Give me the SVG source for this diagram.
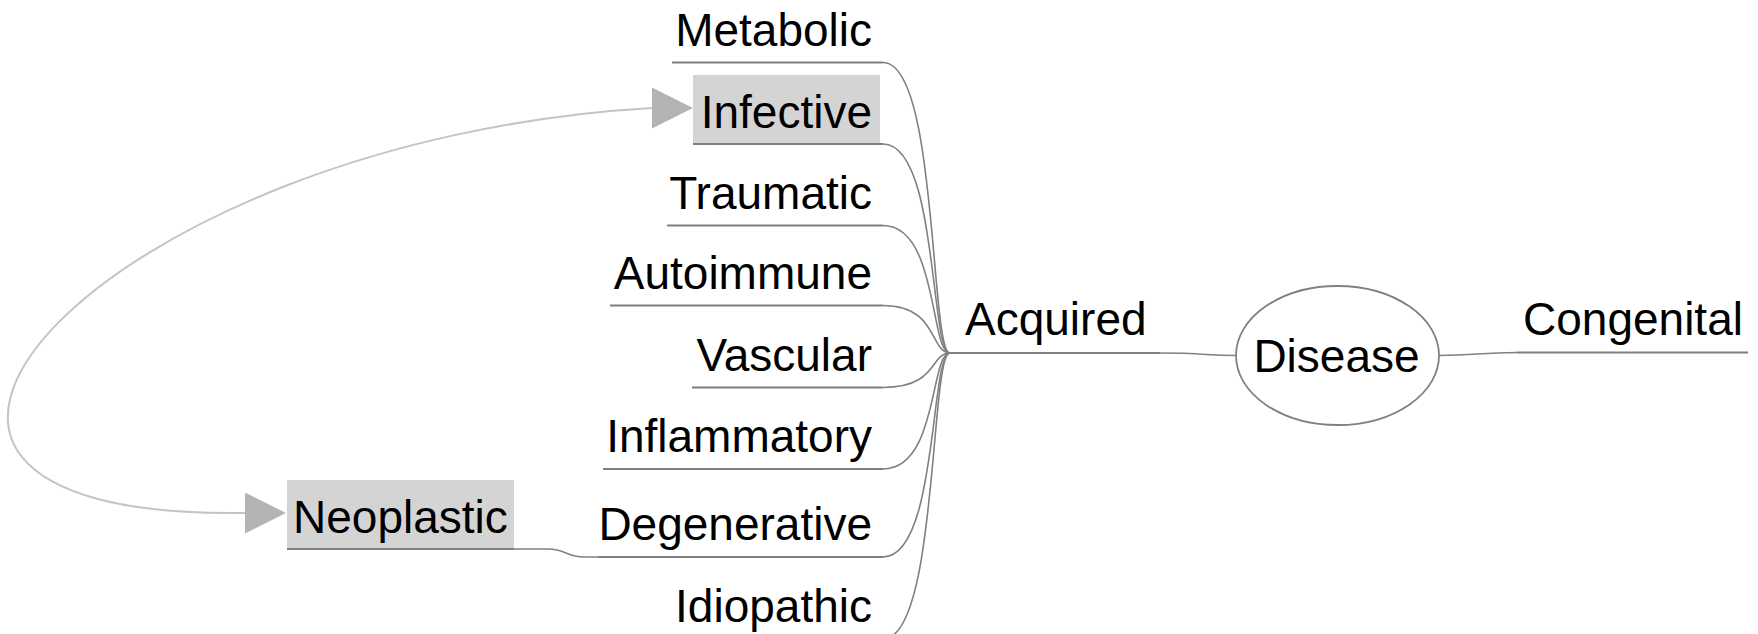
<svg xmlns="http://www.w3.org/2000/svg" width="1758" height="634" viewBox="0 0 1758 634">
<defs>
<style>
text{font-family:"Liberation Sans",Arial,sans-serif;font-size:46px;fill:#000}
.r{text-anchor:end}
.ul{stroke:#7f7f7f;stroke-width:2;fill:none}
.cn{stroke:#808080;stroke-width:1.6;fill:none}
.hl{fill:#d4d4d4}
.rel{stroke:#c4c4c4;stroke-width:2;fill:none;marker-start:url(#ah);marker-end:url(#ah)}
</style>
<marker id="ah" markerUnits="userSpaceOnUse" markerWidth="41" markerHeight="41" viewBox="0 0 41 41" refX="0" refY="20.5" orient="0">
<path d="M0,0 L41,20.5 L0,41 Z" fill="#b4b4b4"/>
</marker>
</defs>
<rect width="1758" height="634" fill="#fff"/>
<g id="connectors">
<path class="cn" d="M883,62.5 C938,62.5 930,353 950,353"/>
<path class="cn" d="M883,144 C938,144 930,353 950,353"/>
<path class="cn" d="M883,225.5 C938,225.5 930,353 950,353"/>
<path class="cn" d="M883,305.5 C938,305.5 930,353 950,353"/>
<path class="cn" d="M883,387.5 C938,387.5 930,353 950,353"/>
<path class="cn" d="M883,469 C938,469 930,353 950,353"/>
<path class="cn" d="M883,557 C938,557 930,353 950,353"/>
<path class="cn" d="M883,639 C938,639 930,353 950,353"/>
<path class="cn" d="M1160,353 C1205,353 1205,355.5 1236,355.5"/>
<path class="cn" d="M1439,355.5 C1475,355.5 1480,352.5 1517,352.5"/>
<path class="cn" d="M514,549 L548,549 C566,549 566,557 584,557 L598,557"/>
<path class="rel" d="M245,513 C-250,520 100,140 652,108"/>
</g>
<g id="disease">
<ellipse cx="1337.5" cy="355.5" rx="101.5" ry="69.5" fill="#fff" stroke="#808080" stroke-width="1.8"/>
<text x="1336.5" y="372" text-anchor="middle">Disease</text>
</g>
<g id="acquired">
<text x="965" y="335">Acquired</text>
<line class="ul" x1="950" y1="353" x2="1160" y2="353"/>
</g>
<g id="congenital">
<text x="1523" y="335">Congenital</text>
<line class="ul" x1="1517" y1="352.5" x2="1748" y2="352.5"/>
</g>
<g id="metabolic">
<text class="r" x="872" y="45.5">Metabolic</text>
<line class="ul" x1="672" y1="62.5" x2="883" y2="62.5"/>
</g>
<g id="infective">
<rect class="hl" x="693" y="75" width="187" height="69"/>
<text class="r" x="872" y="128">Infective</text>
<line class="ul" x1="693" y1="144" x2="883" y2="144"/>
</g>
<g id="traumatic">
<text class="r" x="872" y="208.5">Traumatic</text>
<line class="ul" x1="667" y1="225.5" x2="883" y2="225.5"/>
</g>
<g id="autoimmune">
<text class="r" x="872" y="288.5">Autoimmune</text>
<line class="ul" x1="610" y1="305.5" x2="883" y2="305.5"/>
</g>
<g id="vascular">
<text class="r" x="872" y="370.5">Vascular</text>
<line class="ul" x1="692" y1="387.5" x2="883" y2="387.5"/>
</g>
<g id="inflammatory">
<text class="r" x="872" y="452">Inflammatory</text>
<line class="ul" x1="603" y1="469" x2="883" y2="469"/>
</g>
<g id="degenerative">
<text class="r" x="872" y="540">Degenerative</text>
<line class="ul" x1="598" y1="557" x2="883" y2="557"/>
</g>
<g id="idiopathic">
<text class="r" x="872" y="622">Idiopathic</text>
<line class="ul" x1="670" y1="639" x2="883" y2="639"/>
</g>
<g id="neoplastic">
<rect class="hl" x="287" y="480" width="227" height="69"/>
<text x="293" y="533">Neoplastic</text>
<line class="ul" x1="287" y1="549" x2="514" y2="549"/>
</g>
</svg>
